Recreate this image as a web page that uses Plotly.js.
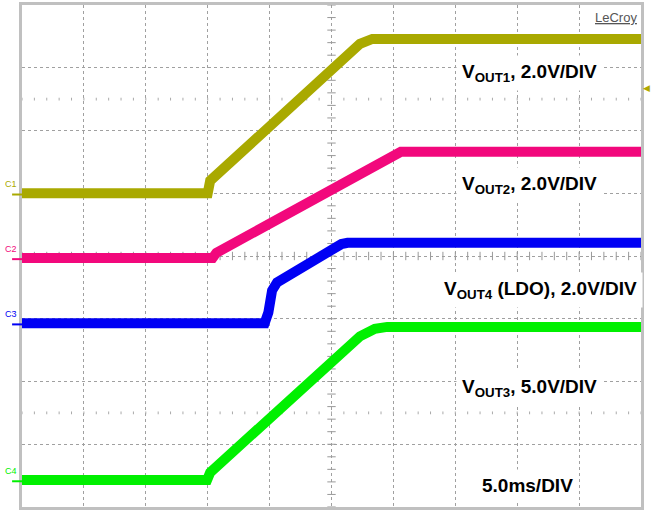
<!DOCTYPE html>
<html>
<head>
<meta charset="utf-8">
<script src="https://cdn.plot.ly/plotly-3.0.1.min.js"></script>
<style>html,body{margin:0;padding:0;background:#fff;}#chart{width:653px;height:510px;}</style>
</head>
<body>
<div id="chart"></div>
<script>
// Time in ms (5.0 ms/div, 10 divisions); vertical position in screen divisions (8 divisions)
const vout1Time = [0, 15.0, 15.2, 25.0, 26.4, 27.3, 28.3, 50];
const vout1Div  = [5.0, 5.0, 5.2, 7.0, 7.26, 7.38, 7.46, 7.46];

const vout2Time = [0, 15.4, 15.7, 25.0, 29.4, 30.0, 30.6, 50];
const vout2Div  = [3.97, 3.97, 4.05, 5.08, 5.57, 5.63, 5.66, 5.66];

const vout4Time = [0, 19.6, 19.9, 20.2, 20.6, 23.0, 25.2, 25.8, 26.3, 50];
const vout4Div  = [2.93, 2.93, 3.10, 3.45, 3.58, 3.86, 4.14, 4.19, 4.21, 4.21];

const vout3Time = [0, 14.95, 15.2, 27.3, 28.5, 29.5, 50];
const vout3Div  = [0.43, 0.43, 0.55, 2.72, 2.84, 2.87, 2.87];

const channelNames = ['C1', 'C2', 'C3', 'C4'];
const channelColors = ['#a9a900', '#f2087c', '#0000f4', '#00f000'];
const labelTexts = [
  'V<sub>OUT1</sub>, 2.0V/DIV',
  'V<sub>OUT2</sub>, 2.0V/DIV',
  'V<sub>OUT4</sub> (LDO), 2.0V/DIV',
  'V<sub>OUT3</sub>, 5.0V/DIV',
  '5.0ms/DIV'
];
const labelX = [41.0, 41.0, 41.9, 41.0, 40.8];
const labelY = [6.92, 5.13, 3.46, 1.90, 0.35];

const series = [
  [vout1Time, vout1Div],
  [vout2Time, vout2Div],
  [vout4Time, vout4Div],
  [vout3Time, vout3Div]
];

// decorative graticule tick marks on centre lines
const tickX = [], tickY = [];
for (let i = 0; i <= 50; i++) tickX.push(i);
for (let i = 0; i <= 40; i++) tickY.push(i * 0.2);

const traces = [];
traces.push({x: tickX, y: tickX.map(() => 4), mode: 'markers', hoverinfo: 'skip',
  marker: {symbol: 'line-ns', size: 6, line: {width: 1, color: '#999'}}});
traces.push({x: tickY.map(() => 25), y: tickY, mode: 'markers', hoverinfo: 'skip',
  marker: {symbol: 'line-ew', size: 6, line: {width: 1, color: '#999'}}});
traces.push({x: tickX.concat(tickX), y: tickX.map(() => 6.5).concat(tickX.map(() => 1.5)), mode: 'markers', hoverinfo: 'skip',
  marker: {symbol: 'line-ns', size: 2, line: {width: 1, color: '#aaa'}}});

series.forEach((s, i) => {
  traces.push({x: s[0], y: s[1], mode: 'lines', name: channelNames[i], hoverinfo: 'skip',
    line: {color: channelColors[i], width: 10}});
});

const annotations = labelTexts.map((t, i) => ({
  x: labelX[i], y: labelY[i], xref: 'x', yref: 'y', text: '<b>' + t + '</b>',
  showarrow: false, bgcolor: '#ffffff', borderpad: 5,
  font: {family: 'Liberation Sans, Arial, sans-serif', size: 19, color: '#000'}
}));

annotations.push({x: 1, y: 1, xref: 'paper', yref: 'paper', xanchor: 'right', yanchor: 'top',
  xshift: -2, yshift: -3, showarrow: false,
  text: '<span style="text-decoration:underline">LeCroy</span>',
  font: {family: 'Liberation Sans, Arial, sans-serif', size: 13, color: '#555'}});

annotations.push({x: 1, y: 6.68, xref: 'paper', yref: 'y', xanchor: 'left', showarrow: false,
  text: '◀', font: {size: 9, color: '#b0a800'}});

const shapes = [];
series.forEach((s, i) => {
  annotations.push({x: 0, y: s[1][0], xref: 'paper', yref: 'y', xanchor: 'right', xshift: -3, yshift: 9,
    showarrow: false, text: channelNames[i],
    font: {family: 'Liberation Sans, Arial, sans-serif', size: 9, color: channelColors[i]}});
  shapes.push({type: 'line', xref: 'paper', yref: 'y', x0: -0.016, x1: 0, y0: s[1][0] - 0.02, y1: s[1][0] - 0.02,
    line: {color: channelColors[i], width: 2}});
});

const layout = {
  width: 653, height: 510,
  margin: {l: 22, r: 12, t: 5, b: 3},
  paper_bgcolor: '#ffffff', plot_bgcolor: '#ffffff',
  showlegend: false,
  xaxis: {range: [0, 50], dtick: 5, showticklabels: false, ticks: '', zeroline: false,
    showgrid: true, gridcolor: '#a0a0a0', griddash: 'dot', gridwidth: 1,
    showline: true, linecolor: '#c0c0c0', linewidth: 3, mirror: true},
  yaxis: {range: [0, 8], dtick: 1, showticklabels: false, ticks: '', zeroline: false,
    showgrid: true, gridcolor: '#a0a0a0', griddash: 'dot', gridwidth: 1,
    showline: true, linecolor: '#c0c0c0', linewidth: 3, mirror: true},
  annotations: annotations,
  shapes: shapes
};

Plotly.newPlot('chart', traces, layout, {staticPlot: true, displayModeBar: false});
</script>
</body>
</html>
